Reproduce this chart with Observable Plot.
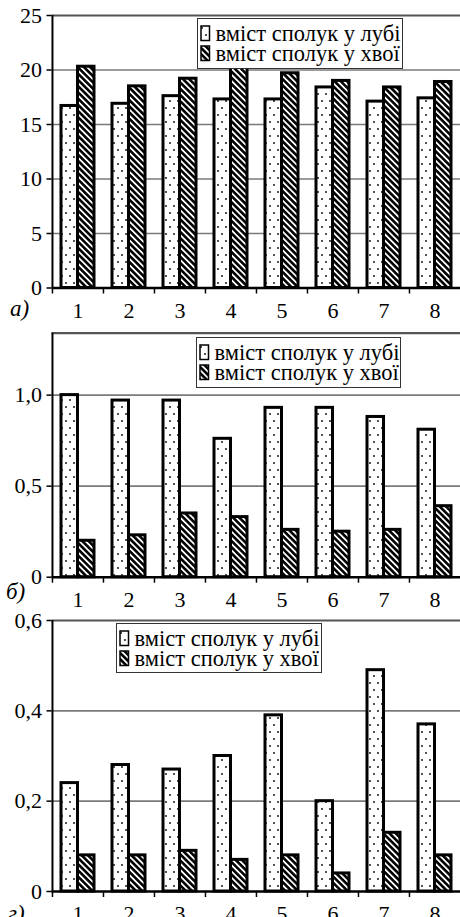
<!DOCTYPE html>
<html>
<head>
<meta charset="utf-8">
<script src="https://cdn.jsdelivr.net/npm/d3@7"></script>
<script src="https://cdn.jsdelivr.net/npm/@observablehq/plot@0.6"></script>
<style>
  html, body { margin: 0; padding: 0; background: #fff; overflow: hidden; }
  #wrap { position: relative; width: 460px; height: 917px; font-family: 'Liberation Serif', 'DejaVu Serif', 'Times New Roman', Times, serif; }
  .panel { position: absolute; left: 0; }
  .legend { position: absolute; box-sizing: border-box; border: 1.5px solid #333; background: #fff; }
  .legend .sw { position: absolute; left: 1.5px; }
  .legend .tx { position: absolute; left: 17.5px; font-size: 22.5px; line-height: 19px; white-space: nowrap; color: #000; }
  #labels { position: absolute; left: 0; top: 0; }
  svg text { font-family: 'Liberation Serif', 'DejaVu Serif', 'Times New Roman', Times, serif; }
</style>
</head>
<body>
<svg width="0" height="0" style="position:absolute">
  <defs>
    <pattern id="dots" patternUnits="userSpaceOnUse" width="8" height="14">
      <rect width="8" height="14" fill="#fff"/>
      <circle cx="2" cy="3" r="0.9" fill="#000"/>
      <circle cx="6" cy="10" r="0.9" fill="#000"/>
    </pattern>
    <pattern id="hatch" patternUnits="userSpaceOnUse" width="4.4" height="4.4" patternTransform="rotate(-45)">
      <rect width="4.4" height="4.4" fill="#000"/>
      <rect width="1.8" height="4.4" fill="#fff"/>
    </pattern>
  </defs>
</svg>
<div id="wrap"></div>
<script>
// ---- data ----
const categories = ["1", "2", "3", "4", "5", "6", "7", "8"];
const seriesNames = ["вміст сполук у лубі", "вміст сполук у хвої"];
const panelLabels = ["а)", "б)", "г)"];

const aBark    = [16.7, 16.9, 17.6, 17.3, 17.3, 18.4, 17.1, 17.4];
const aNeedles = [20.3, 18.5, 19.2, 20.2, 19.7, 19.0, 18.4, 18.9];
const bBark    = [1.00, 0.97, 0.97, 0.76, 0.93, 0.93, 0.88, 0.81];
const bNeedles = [0.20, 0.23, 0.35, 0.33, 0.26, 0.25, 0.26, 0.39];
const gBark    = [0.24, 0.28, 0.27, 0.30, 0.39, 0.20, 0.49, 0.37];
const gNeedles = [0.08, 0.08, 0.09, 0.07, 0.08, 0.04, 0.13, 0.08];

const aTicks = [0, 5, 10, 15, 20, 25];
const bTicks = [0, 0.5, 1.0];
const gTicks = [0, 0.2, 0.4, 0.6];
const aMax = 25, bMax = 1.34, gMax = 0.6;

// ---- drawing ----
const FONT = "'Liberation Serif', 'DejaVu Serif', 'Times New Roman', Times, serif";
const W = 460, ML = 51.5;
const step = (W - ML) / categories.length;
const fmtInt = d => String(d);
const fmtDec = d => d === 0 ? "0" : d.toFixed(1).replace(".", ",");

function drawPanel(cfg) {
  const rows = categories.map((c, i) => ({c, bark: cfg.bark[i], needles: cfg.needles[i]}));
  return Plot.plot({
    width: W, height: cfg.height,
    marginTop: cfg.mTop, marginBottom: cfg.mBottom, marginLeft: ML, marginRight: 0,
    style: {fontFamily: FONT, fontSize: "21px", color: "#000", background: "transparent", overflow: "visible"},
    x: {domain: categories, padding: 0, axis: null, label: null},
    y: {domain: [0, cfg.max], axis: null, label: null},
    marks: [
      Plot.ruleY(cfg.ticks.filter(t => t > 0 && t < cfg.max), {stroke: "#7a7a7a", strokeWidth: 1.6}),
      Plot.ruleY([cfg.max], {stroke: "#555", strokeWidth: 2.2}),
      Plot.barY(rows, {x: "c", y: "bark", fill: "url(#dots)", stroke: "#000", strokeWidth: 3, insetLeft: 9, insetRight: 25.5}),
      Plot.barY(rows, {x: "c", y: "needles", fill: "url(#hatch)", stroke: "#000", strokeWidth: 3, insetLeft: 25.5, insetRight: 9}),
      Plot.ruleY([0], {stroke: "#000", strokeWidth: 2.5}),
      Plot.ruleX([categories[0]], {dx: -step / 2, stroke: "#000", strokeWidth: 2}),
      Plot.axisY({ticks: cfg.ticks, tickFormat: cfg.fmt, tickSize: 5, tickPadding: 5, fontSize: 22, stroke: "#000", strokeWidth: 1.5, label: null}),
      Plot.axisX({tickSize: 6, fill: "none", dx: -step / 2, stroke: "#000", strokeWidth: 1.5, label: null}),
      Plot.axisX({tickSize: 0, tickPadding: 14, fontSize: 22, label: null})
    ]
  });
}

const wrap = document.getElementById("wrap");
const panels = [
  {bark: aBark, needles: aNeedles, ticks: aTicks, max: aMax, fmt: fmtInt, top: 0,   height: 320, mTop: 15,   mBottom: 32.5,
   legend: {left: 197, top: 18, width: 206, height: 51}},
  {bark: bBark, needles: bNeedles, ticks: bTicks, max: bMax, fmt: fmtDec, top: 320, height: 290, mTop: 12.7, mBottom: 33.3,
   legend: {left: 196, top: 337, width: 205, height: 51}},
  {bark: gBark, needles: gNeedles, ticks: gTicks, max: gMax, fmt: fmtDec, top: 610, height: 307, mTop: 10,   mBottom: 26,
   legend: {left: 116, top: 623, width: 206, height: 50}}
];

panels.forEach(cfg => {
  const holder = document.createElement("div");
  holder.className = "panel";
  holder.style.top = cfg.top + "px";
  holder.appendChild(drawPanel(cfg));
  wrap.appendChild(holder);

  const lg = document.createElement("div");
  lg.className = "legend";
  Object.assign(lg.style, {left: cfg.legend.left + "px", top: cfg.legend.top + "px", width: cfg.legend.width + "px", height: cfg.legend.height + "px"});
  seriesNames.forEach((name, i) => {
    const sw = document.createElementNS("http://www.w3.org/2000/svg", "svg");
    sw.setAttribute("class", "sw");
    sw.setAttribute("width", 11); sw.setAttribute("height", 17);
    sw.style.top = (6 + 19.5 * i) + "px";
    const r = document.createElementNS("http://www.w3.org/2000/svg", "rect");
    r.setAttribute("x", 1); r.setAttribute("y", 1); r.setAttribute("width", 8.5); r.setAttribute("height", 14.5);
    r.setAttribute("fill", i === 0 ? "url(#dots)" : "url(#hatch)");
    r.setAttribute("stroke", "#000"); r.setAttribute("stroke-width", 1.5);
    sw.appendChild(r);
    lg.appendChild(sw);
    const tx = document.createElement("div");
    tx.className = "tx";
    tx.style.top = (4.8 + 20 * i) + "px";
    tx.textContent = name;
    lg.appendChild(tx);
  });
  wrap.appendChild(lg);
});

// panel letters
const labelPos = [[10, 316], [6, 599], [8, 921]];
const ov = d3.select(wrap).append("svg").attr("id", "labels").attr("width", W).attr("height", 917);
ov.selectAll("text").data(panelLabels).join("text")
  .attr("x", (d, i) => labelPos[i][0]).attr("y", (d, i) => labelPos[i][1])
  .attr("font-style", "italic").attr("font-size", 23).attr("fill", "#000")
  .text(d => d);
</script>
</body>
</html>
